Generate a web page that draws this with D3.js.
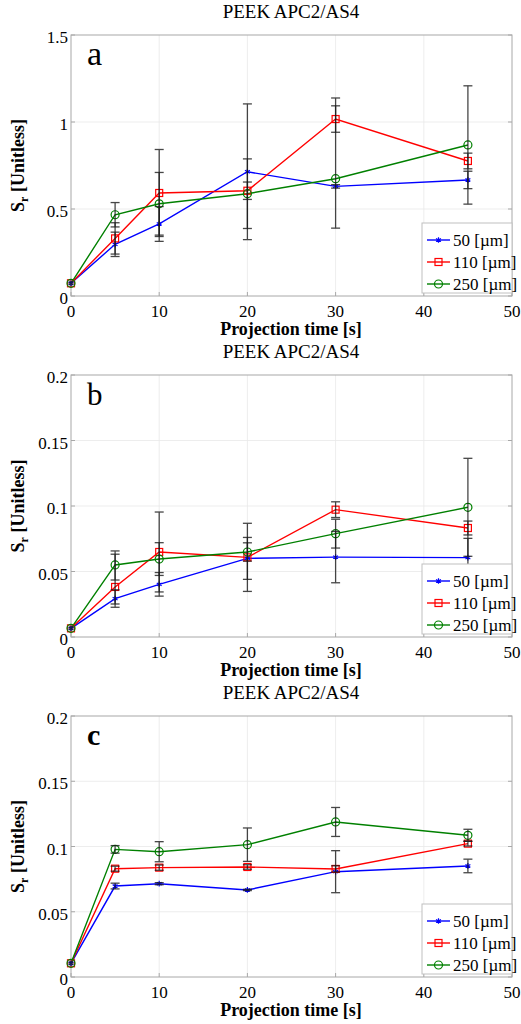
<!DOCTYPE html>
<html>
<head>
<meta charset="utf-8">
<script src="https://cdn.jsdelivr.net/npm/d3@7"></script>
<style>
  body { margin: 0; background: #fff; }
</style>
</head>
<body>
<div id="main"></div>
<script>
// projection times (s)
var times = [0, 5, 10, 20, 30, 45];
var seriesNames = ["50 [\u00b5m]", "110 [\u00b5m]", "250 [\u00b5m]"];
var xTicks = [0, 10, 20, 30, 40, 50];

// panel a : [50, 110, 250]
var aMean = [
  [0.073, 0.297, 0.414, 0.714, 0.630, 0.667],
  [0.073, 0.331, 0.592, 0.605, 1.017, 0.776],
  [0.073, 0.467, 0.530, 0.588, 0.674, 0.868]
];
var aErrMinus = [
  [0, 0.07, 0.10, 0.39, 0.01, 0.05],
  [0, 0.09, 0.25, 0.05, 0.076, 0.045],
  [0, 0.07, 0.18, 0.20, 0.284, 0.34]
];
var aErrPlus = [
  [0, 0.07, 0.10, 0.39, 0.01, 0.05],
  [0, 0.09, 0.25, 0.05, 0.076, 0.045],
  [0, 0.07, 0.18, 0.20, 0.464, 0.34]
];
var aTicks = [0, 0.5, 1, 1.5];

// panel b
var bMean = [
  [0.0066, 0.0293, 0.0402, 0.0600, 0.0610, 0.0606],
  [0.0066, 0.0382, 0.0649, 0.0608, 0.0972, 0.0832],
  [0.0066, 0.0550, 0.0595, 0.0649, 0.0789, 0.0990]
];
var bErrMinus = [
  [0, 0.0066, 0.009, 0.016, 0.0196, 0.0147],
  [0, 0.013, 0.0305, 0.026, 0.006, 0.0053],
  [0, 0.0115, 0.0125, 0.007, 0.011, 0.0374]
];
var bErrPlus = [
  [0, 0.0067, 0.009, 0.016, 0.0196, 0.0147],
  [0, 0.025, 0.0305, 0.026, 0.006, 0.0053],
  [0, 0.0107, 0.0125, 0.007, 0.011, 0.0374]
];
var bTicks = [0, 0.05, 0.1, 0.15, 0.2];

// panel c
var cMean = [
  [0.0105, 0.0697, 0.0715, 0.0667, 0.0807, 0.0851],
  [0.0105, 0.0830, 0.0838, 0.0843, 0.0828, 0.1022],
  [0.0105, 0.0978, 0.0960, 0.1014, 0.1188, 0.1086]
];
var cErr = [
  [0, 0.0022, 0.0008, 0.0005, 0.0161, 0.0052],
  [0, 0.0019, 0.0020, 0.0017, 0.0024, 0.0018],
  [0, 0.0029, 0.0077, 0.0128, 0.0111, 0.0046]
];
var cTicks = [0, 0.05, 0.1, 0.15, 0.2];

var colors = ["#0000ff", "#ff0000", "#008000"];
var FONT = "'Liberation Serif', 'Times New Roman', serif";

var panels = [
  {mean: aMean, lo: aErrMinus, hi: aErrPlus, ticks: aTicks, top: 35, bottom: 296,
   letter: "a", letterSize: 34, letterBold: false, titleY: 18},
  {mean: bMean, lo: bErrMinus, hi: bErrPlus, ticks: bTicks, top: 375, bottom: 637,
   letter: "b", letterSize: 31, letterBold: false, titleY: 358},
  {mean: cMean, lo: cErr, hi: cErr, ticks: cTicks, top: 716, bottom: 977,
   letter: "c", letterSize: 30, letterBold: true, titleY: 699}
];

var left = 71, right = 512;

var svg = d3.select("#main").append("svg")
  .attr("width", 521)
  .attr("height", 1024)
  .attr("font-family", FONT)
  .style("font-family", FONT);

var x = d3.scaleLinear().domain([0, 50]).range([left, right]);

panels.forEach(function(p) {
  var y = d3.scaleLinear()
    .domain([0, d3.max(p.ticks)])
    .range([p.bottom, p.top]);
  var g = svg.append("g");

  // title
  g.append("text")
    .attr("x", 291).attr("y", p.titleY)
    .attr("text-anchor", "middle")
    .style("font-family", FONT)
    .style("font-size", "19px")
    .text("PEEK APC2/AS4");

  // grid
  g.selectAll(".vgrid").data(xTicks.slice(1, -1)).enter().append("line")
    .attr("x1", function(d) { return x(d); }).attr("x2", function(d) { return x(d); })
    .attr("y1", p.top).attr("y2", p.bottom)
    .attr("stroke", "#e8e8e8").attr("stroke-width", 0.8);
  g.selectAll(".hgrid").data(p.ticks.slice(1, -1)).enter().append("line")
    .attr("x1", left).attr("x2", right)
    .attr("y1", function(d) { return y(d); }).attr("y2", function(d) { return y(d); })
    .attr("stroke", "#e8e8e8").attr("stroke-width", 0.8);

  // box
  g.append("rect")
    .attr("x", left).attr("y", p.top)
    .attr("width", right - left).attr("height", p.bottom - p.top)
    .attr("fill", "none").attr("stroke", "#a8a8a8").attr("stroke-width", 1);

  // ticks (inward)
  g.selectAll(".xt").data(xTicks).enter().append("line")
    .attr("x1", function(d) { return x(d); }).attr("x2", function(d) { return x(d); })
    .attr("y1", p.bottom).attr("y2", p.bottom - 4)
    .attr("stroke", "#a8a8a8");
  g.selectAll(".yt").data(p.ticks).enter().append("line")
    .attr("x1", left).attr("x2", left + 4)
    .attr("y1", function(d) { return y(d); }).attr("y2", function(d) { return y(d); })
    .attr("stroke", "#a8a8a8");
  g.selectAll(".yt2").data(p.ticks).enter().append("line")
    .attr("x1", right).attr("x2", right - 4)
    .attr("y1", function(d) { return y(d); }).attr("y2", function(d) { return y(d); })
    .attr("stroke", "#a8a8a8");

  // tick labels
  g.selectAll(".xl").data(xTicks).enter().append("text")
    .attr("x", function(d) { return x(d); })
    .attr("y", p.bottom + 21)
    .attr("text-anchor", "middle")
    .style("font-family", FONT)
    .style("font-size", "17px")
    .text(function(d) { return d; });
  g.selectAll(".yl").data(p.ticks).enter().append("text")
    .attr("x", 68)
    .attr("y", function(d) { return y(d) + 8; })
    .attr("text-anchor", "end")
    .style("font-family", FONT)
    .style("font-size", "17px")
    .text(function(d) { return String(d); });

  // axis labels
  g.append("text")
    .attr("x", 291).attr("y", p.bottom + 39)
    .attr("text-anchor", "middle")
    .style("font-family", FONT)
    .style("font-size", "18px").style("font-weight", "bold")
    .text("Projection time [s]");
  var yl = g.append("text")
    .attr("transform", "translate(24," + ((p.top + p.bottom) / 2) + ") rotate(-90)")
    .attr("text-anchor", "middle")
    .style("font-family", FONT)
    .style("font-size", "18px").style("font-weight", "bold");
  yl.append("tspan").text("S");
  yl.append("tspan").attr("dy", 4).style("font-size", "12px").text("r");
  yl.append("tspan").attr("dy", -4).text(" [Unitless]");

  // panel letter
  g.append("text")
    .attr("x", 87).attr("y", p.top + (p.letterBold ? 29 : 30))
    .style("font-family", FONT)
    .style("font-size", p.letterSize + "px")
    .style("font-weight", p.letterBold ? "bold" : "normal")
    .text(p.letter);

  // lines
  var line = d3.line()
    .x(function(d, i) { return x(times[i]); })
    .y(function(d) { return y(d); });

  p.mean.forEach(function(vals, s) {
    g.append("path")
      .datum(vals)
      .attr("d", line)
      .attr("fill", "none")
      .attr("stroke", colors[s])
      .attr("stroke-width", 1.4);
  });

  // markers
  p.mean.forEach(function(vals, s) {
    drawMarkers(g, s, vals.map(function(v, i) { return [x(times[i]), y(v)]; }));
  });

  // error bars
  p.mean.forEach(function(vals, s) {
    var eb = g.append("g")
      .attr("stroke", "#1a1a1a")
      .attr("stroke-width", 1.3)
      .attr("opacity", 0.8);
    vals.forEach(function(v, i) {
      if (p.lo[s][i] === 0 && p.hi[s][i] === 0) return;
      var cx = x(times[i]), y1 = y(v - p.lo[s][i]), y2 = y(v + p.hi[s][i]);
      eb.append("line").attr("x1", cx).attr("x2", cx).attr("y1", y1).attr("y2", y2);
      eb.append("line").attr("x1", cx - 4.5).attr("x2", cx + 4.5).attr("y1", y1).attr("y2", y1);
      eb.append("line").attr("x1", cx - 4.5).attr("x2", cx + 4.5).attr("y1", y2).attr("y2", y2);
    });
  });
  // dark dot where everything piles up at t = 0
  g.append("circle")
    .attr("cx", x(times[0])).attr("cy", y(p.mean[0][0]))
    .attr("r", 2.5).attr("fill", "#1a1a1a").attr("opacity", 0.7);

  // legend
  var lg = g.append("g").attr("transform", "translate(422," + (p.bottom - 73) + ")");
  lg.append("rect")
    .attr("width", 90).attr("height", 70)
    .attr("fill", "#fff").attr("stroke", "#c0c0c0").attr("stroke-width", 1);
  seriesNames.forEach(function(name, s) {
    var ly = 17 + s * 22;
    lg.append("line")
      .attr("x1", 5).attr("x2", 28)
      .attr("y1", ly).attr("y2", ly)
      .attr("stroke", colors[s]).attr("stroke-width", 1.4);
    drawMarkers(lg, s, [[16.5, ly]]);
    lg.append("text")
      .attr("x", 31).attr("y", ly + 6)
      .style("font-family", FONT)
      .style("font-size", "17px")
      .text(name);
  });
});

function drawMarkers(g, s, pts) {
  if (s == 0) {
    g.selectAll(null).data(pts).enter().append("path")
      .attr("transform", function(d) { return "translate(" + d[0] + "," + d[1] + ")"; })
      .attr("d", d3.symbol(d3.symbolAsterisk, 22)())
      .attr("fill", "none").attr("stroke", colors[0]).attr("stroke-width", 1.2);
  } else if (s == 1) {
    g.selectAll(null).data(pts).enter().append("rect")
      .attr("x", function(d) { return d[0] - 3.5; })
      .attr("y", function(d) { return d[1] - 3.5; })
      .attr("width", 7).attr("height", 7)
      .attr("fill", "none").attr("stroke", colors[1]).attr("stroke-width", 1.2);
  } else {
    g.selectAll(null).data(pts).enter().append("circle")
      .attr("cx", function(d) { return d[0]; })
      .attr("cy", function(d) { return d[1]; })
      .attr("r", 4)
      .attr("fill", "none").attr("stroke", colors[2]).attr("stroke-width", 1.2);
  }
}
</script>
</body>
</html>
